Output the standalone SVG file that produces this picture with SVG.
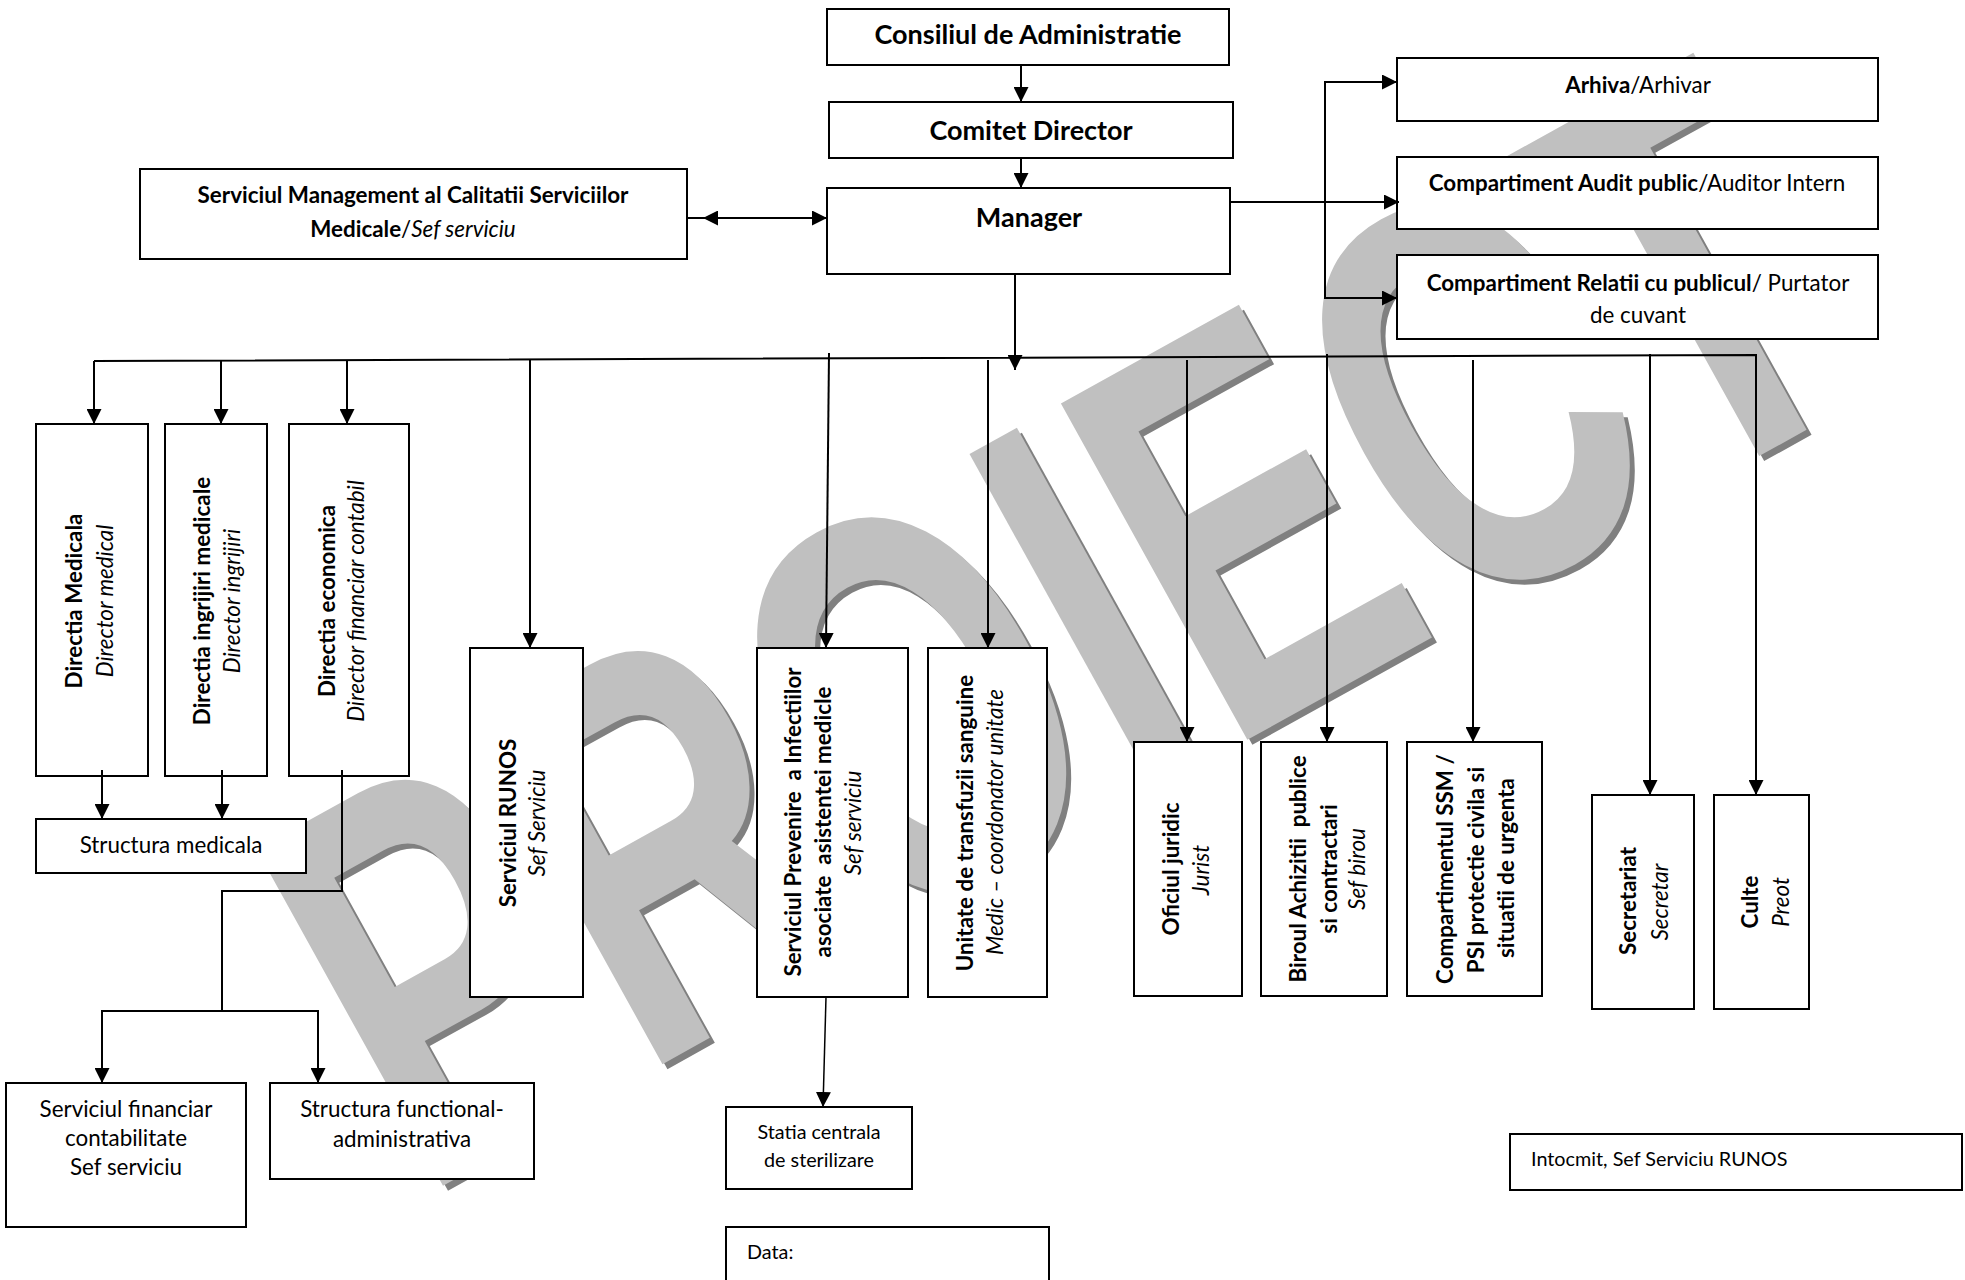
<svg xmlns="http://www.w3.org/2000/svg" width="1965" height="1280" viewBox="0 0 1965 1280">
<style>
.box{fill:#fff;stroke:#000;stroke-width:2}
.f{font-family:Lato,"Liberation Sans",sans-serif;fill:#000}
.b{font-weight:700}
.i{font-style:italic}
.s27{font-size:27px}
.s22{font-size:22.4px}
.s20{font-size:19.8px}
.c{text-anchor:middle}
.ln{stroke:#000;stroke-width:2;fill:none}
.thin{stroke:#000;stroke-width:1.5;fill:none}
.arr{marker-end:url(#ah)}
.wm{font-family:"Liberation Sans",Arial,sans-serif;font-weight:700;font-size:100px}
</style>
<defs>
<marker id="ah" markerWidth="15" markerHeight="15" refX="15" refY="7.5" orient="auto-start-reverse" markerUnits="userSpaceOnUse"><path d="M0,0 L15,7.5 L0,15 z" fill="#000"/></marker>
</defs>
<rect width="1965" height="1280" fill="#fff"/>
<g id="watermark">
<text class="wm" fill="#808080" transform="matrix(3.29 -1.824 2.71 4.89 426 1203)">PROIECT</text>
<text class="wm" fill="#c0c0c0" transform="matrix(3.29 -1.824 2.71 4.89 421 1198)">PROIECT</text>
</g>
<g id="consiliul"><rect class="box" x="827" y="9" width="402" height="56"/><text class="f b s27 c" x="1028" y="44">Consiliul de Administratie</text></g>
<g id="comitet"><rect class="box" x="829" y="102" width="404" height="56"/><text class="f b s27 c" x="1031" y="140">Comitet Director</text></g>
<g id="manager"><rect class="box" x="827" y="188" width="403" height="86"/><text class="f b s27 c" x="1029" y="227">Manager</text></g>
<g id="smc"><rect class="box" x="140" y="169" width="547" height="90"/><text class="f b s22 c" x="413" y="203">Serviciul Management al Calitatii Serviciilor</text><text class="f s22 c" x="413" y="237"><tspan class="b">Medicale</tspan>/<tspan class="i">Sef serviciu</tspan></text></g>
<g id="arhiva"><rect class="box" x="1397" y="58" width="481" height="63"/><text class="f s22 c" x="1638" y="93"><tspan class="b">Arhiva</tspan>/Arhivar</text></g>
<g id="audit"><rect class="box" x="1397" y="157" width="481" height="72"/><text class="f s22 c" x="1637" y="191"><tspan class="b">Compartiment Audit public</tspan>/Auditor Intern</text></g>
<g id="relatii"><rect class="box" x="1397" y="255" width="481" height="84"/><text class="f s22 c" x="1638" y="291"><tspan class="b">Compartiment Relatii cu publicul</tspan>/ Purtator</text><text class="f s22 c" x="1638" y="323">de cuvant</text></g>
<g id="dir-medicala"><rect class="box" x="36" y="424" width="112" height="352"/><text class="f b s22 c" transform="translate(82,601) rotate(-90)">Directia Medicala</text><text class="f i s22 c" transform="translate(113,601) rotate(-90)">Director medical</text></g>
<g id="dir-ingrijiri"><rect class="box" x="165" y="424" width="102" height="352"/><text class="f b s22 c" transform="translate(210,601) rotate(-90)">Directia ingrijiri medicale</text><text class="f i s22 c" transform="translate(240,601) rotate(-90)">Director ingrijiri</text></g>
<g id="dir-economica"><rect class="box" x="289" y="424" width="120" height="352"/><text class="f b s22 c" transform="translate(335,601) rotate(-90)">Directia economica</text><text class="f i s22 c" transform="translate(364,601) rotate(-90)">Director financiar contabil</text></g>
<g id="structura-medicala"><rect class="box" x="36" y="819" width="270" height="54"/><text class="f s22 c" x="171" y="853">Structura medicala</text></g>
<g id="serv-financiar"><rect class="box" x="6" y="1083" width="240" height="144"/><text class="f s22 c" x="126" y="1117">Serviciul financiar</text><text class="f s22 c" x="126" y="1146">contabilitate</text><text class="f s22 c" x="126" y="1175">Sef serviciu</text></g>
<g id="structura-functional"><rect class="box" x="270" y="1083" width="264" height="96"/><text class="f s22 c" x="402" y="1117">Structura functional-</text><text class="f s22 c" x="402" y="1147">administrativa</text></g>
<g id="runos"><rect class="box" x="470" y="648" width="113" height="349"/><text class="f b s22 c" transform="translate(516,823) rotate(-90)">Serviciul RUNOS</text><text class="f i s22 c" transform="translate(545,823) rotate(-90)">Sef Serviciu</text></g>
<g id="prevenire"><rect class="box" x="757" y="648" width="151" height="349"/><text class="f b s22 c" xml:space="preserve" transform="translate(801,822) rotate(-90)">Serviciul Prevenire  a Infectiilor</text><text class="f b s22 c" xml:space="preserve" transform="translate(831,822) rotate(-90)">asociate  asistentei medicle</text><text class="f i s22 c" transform="translate(861,823) rotate(-90)">Sef serviciu</text></g>
<g id="unitate"><rect class="box" x="928" y="648" width="119" height="349"/><text class="f b s22 c" transform="translate(973,823) rotate(-90)">Unitate de transfuzii sanguine</text><text class="f i s22 c" transform="translate(1003,822) rotate(-90)">Medic – coordonator unitate</text></g>
<g id="oficiul"><rect class="box" x="1134" y="742" width="108" height="254"/><text class="f b s22 c" transform="translate(1179,869) rotate(-90)">Oficiul juridic</text><text class="f i s22 c" transform="translate(1209,870) rotate(-90)">Jurist</text></g>
<g id="biroul"><rect class="box" x="1261" y="742" width="126" height="254"/><text class="f b s22 c" xml:space="preserve" transform="translate(1306,869) rotate(-90)">Biroul Achizitii  publice</text><text class="f b s22 c" transform="translate(1337,869) rotate(-90)">si contractari</text><text class="f i s22 c" transform="translate(1365,869) rotate(-90)">Sef birou</text></g>
<g id="ssm"><rect class="box" x="1407" y="742" width="135" height="254"/><text class="f b s22 c" transform="translate(1453,869) rotate(-90)">Compartimentul SSM /</text><text class="f b s22 c" transform="translate(1484,870) rotate(-90)">PSI protectie civila si</text><text class="f b s22 c" transform="translate(1514,868) rotate(-90)">situatii de urgenta</text></g>
<g id="secretariat"><rect class="box" x="1592" y="795" width="102" height="214"/><text class="f b s22 c" transform="translate(1636,901) rotate(-90)">Secretariat</text><text class="f i s22 c" transform="translate(1668,902) rotate(-90)">Secretar</text></g>
<g id="culte"><rect class="box" x="1714" y="795" width="95" height="214"/><text class="f b s22 c" transform="translate(1758,902) rotate(-90)">Culte</text><text class="f i s22 c" transform="translate(1789,902) rotate(-90)">Preot</text></g>
<g id="statia"><rect class="box" x="726" y="1107" width="186" height="82"/><text class="f s20 c" x="819" y="1139">Statia centrala</text><text class="f s20 c" x="819" y="1167">de sterilizare</text></g>
<g id="data"><rect class="box" x="726" y="1227" width="323" height="70"/><text class="f s20" x="747" y="1259">Data:</text></g>
<g id="intocmit"><rect class="box" x="1510" y="1134" width="452" height="56"/><text class="f s20" x="1531" y="1166">Intocmit, Sef Serviciu RUNOS</text></g>
<g id="connectors">
<line class="ln arr" x1="1021" y1="65" x2="1021" y2="102"/>
<line class="ln arr" x1="1021" y1="158" x2="1021" y2="188"/>
<line class="ln arr" x1="703" y1="218" x2="827" y2="218" style="marker-start:url(#ah)"/>
<line class="ln" x1="687" y1="218" x2="703" y2="218"/>
<line class="ln arr" x1="1230" y1="202" x2="1399" y2="202"/>
<polyline class="ln arr" points="1397,82 1325,82 1325,298 1397,298" style="marker-end:url(#ah);marker-start:url(#ah)"/>
<line class="ln arr" x1="1015" y1="274" x2="1015" y2="370"/>
<polyline class="ln arr" points="94,361 1756,355 1756,795"/>
<line class="ln arr" x1="94" y1="361" x2="94" y2="424"/>
<line class="ln arr" x1="221" y1="360" x2="221" y2="424"/>
<line class="ln arr" x1="347" y1="360" x2="347" y2="424"/>
<line class="ln arr" x1="530" y1="359" x2="530" y2="648"/>
<line class="ln arr" x1="829" y1="353" x2="826" y2="648"/>
<line class="ln arr" x1="988" y1="360" x2="988" y2="648"/>
<line class="ln arr" x1="1187" y1="360" x2="1187" y2="742"/>
<line class="ln arr" x1="1327" y1="354" x2="1327" y2="742"/>
<line class="ln arr" x1="1473" y1="360" x2="1473" y2="742"/>
<line class="ln arr" x1="1650" y1="354" x2="1650" y2="795"/>
<line class="ln arr" x1="102" y1="770" x2="102" y2="819"/>
<line class="ln arr" x1="222" y1="770" x2="222" y2="819"/>
<polyline class="ln" points="342,770 342,891 222,891 222,1011"/>
<polyline class="ln arr" points="102,1083 102,1011 318,1011 318,1083" style="marker-start:url(#ah)"/>
<line class="thin arr" x1="826" y1="997" x2="823" y2="1107"/>
</g>
</svg>
